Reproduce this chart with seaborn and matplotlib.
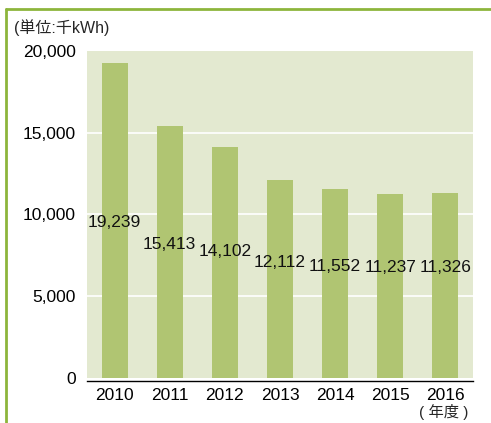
import matplotlib
matplotlib.use("Agg")
import matplotlib.pyplot as plt
import seaborn as sns
import pandas as pd
from matplotlib.lines import Line2D

years = ["2010", "2011", "2012", "2013", "2014", "2015", "2016"]
usage = [19239, 15413, 14102, 12112, 11552, 11237, 11326]
yticks = [0, 5000, 10000, 15000, 20000]

sns.set_theme(style="white")
plt.rcParams["font.family"] = ["Liberation Sans", "Noto Sans CJK JP", "DejaVu Sans"]

W, H = 491, 423
fig = plt.figure(figsize=(W / 100, H / 100), dpi=100)
ax = fig.add_axes([87 / W, 1 - 378 / H, (473 - 87) / W, (378 - 51) / H])

bg = "#e3e9d0"
bar_color = "#b0c572"
frame = "#8db53c"

ax.set_facecolor(bg)
df = pd.DataFrame({"year": years, "usage": usage})
sns.barplot(data=df, x="year", y="usage", color=bar_color, saturation=1,
            width=0.47, linewidth=0, ax=ax, zorder=2)

ax.set_ylim(0, 20000)
ax.set_xlim(-0.5, len(years) - 0.5)
ax.set_yticks(yticks)
ax.set_yticklabels([f"{v:,}" for v in yticks])
for v in yticks[1:-1]:
    ax.axhline(v, color="white", lw=1.2, zorder=1)

ax.set_xticks(range(len(years)))
ax.set_xticklabels(years)
ax.set_xticks([i - 0.5 for i in range(len(years) + 1)], minor=True)
ax.tick_params(axis="x", which="major", length=0, pad=5, colors="black", labelsize=12.5)
ax.tick_params(axis="x", which="minor", length=6, width=1, direction="out", color="black")
ax.tick_params(axis="y", length=0, pad=8, colors="black", labelsize=12.5)
ax.set_xlabel("")
ax.set_ylabel("")

for s in ["top", "right", "left"]:
    ax.spines[s].set_visible(False)
ax.spines["bottom"].set_color("black")
ax.spines["bottom"].set_linewidth(1)
ax.spines["bottom"].set_position(("outward", 2))

for i, v in enumerate(usage):
    ax.text(i, v * 0.35 + 2800, f"{v:,}", ha="center", va="center",
            fontsize=12.5, color="#111111", zorder=3)

fig.text(14 / W, 1 - 28 / H, "(単位:千kWh)", fontsize=11.5, ha="left", va="center")
fig.text(444 / W, 1 - 412 / H, "( 年度 )", fontsize=11, ha="center", va="center")

fig.add_artist(Line2D([6 / W, 6 / W], [0, 1 - 9 / H], color=frame, lw=2))
fig.add_artist(Line2D([6 / W, 1], [1 - 9 / H, 1 - 9 / H], color=frame, lw=2))

fig.savefig("out.png", dpi=100)
